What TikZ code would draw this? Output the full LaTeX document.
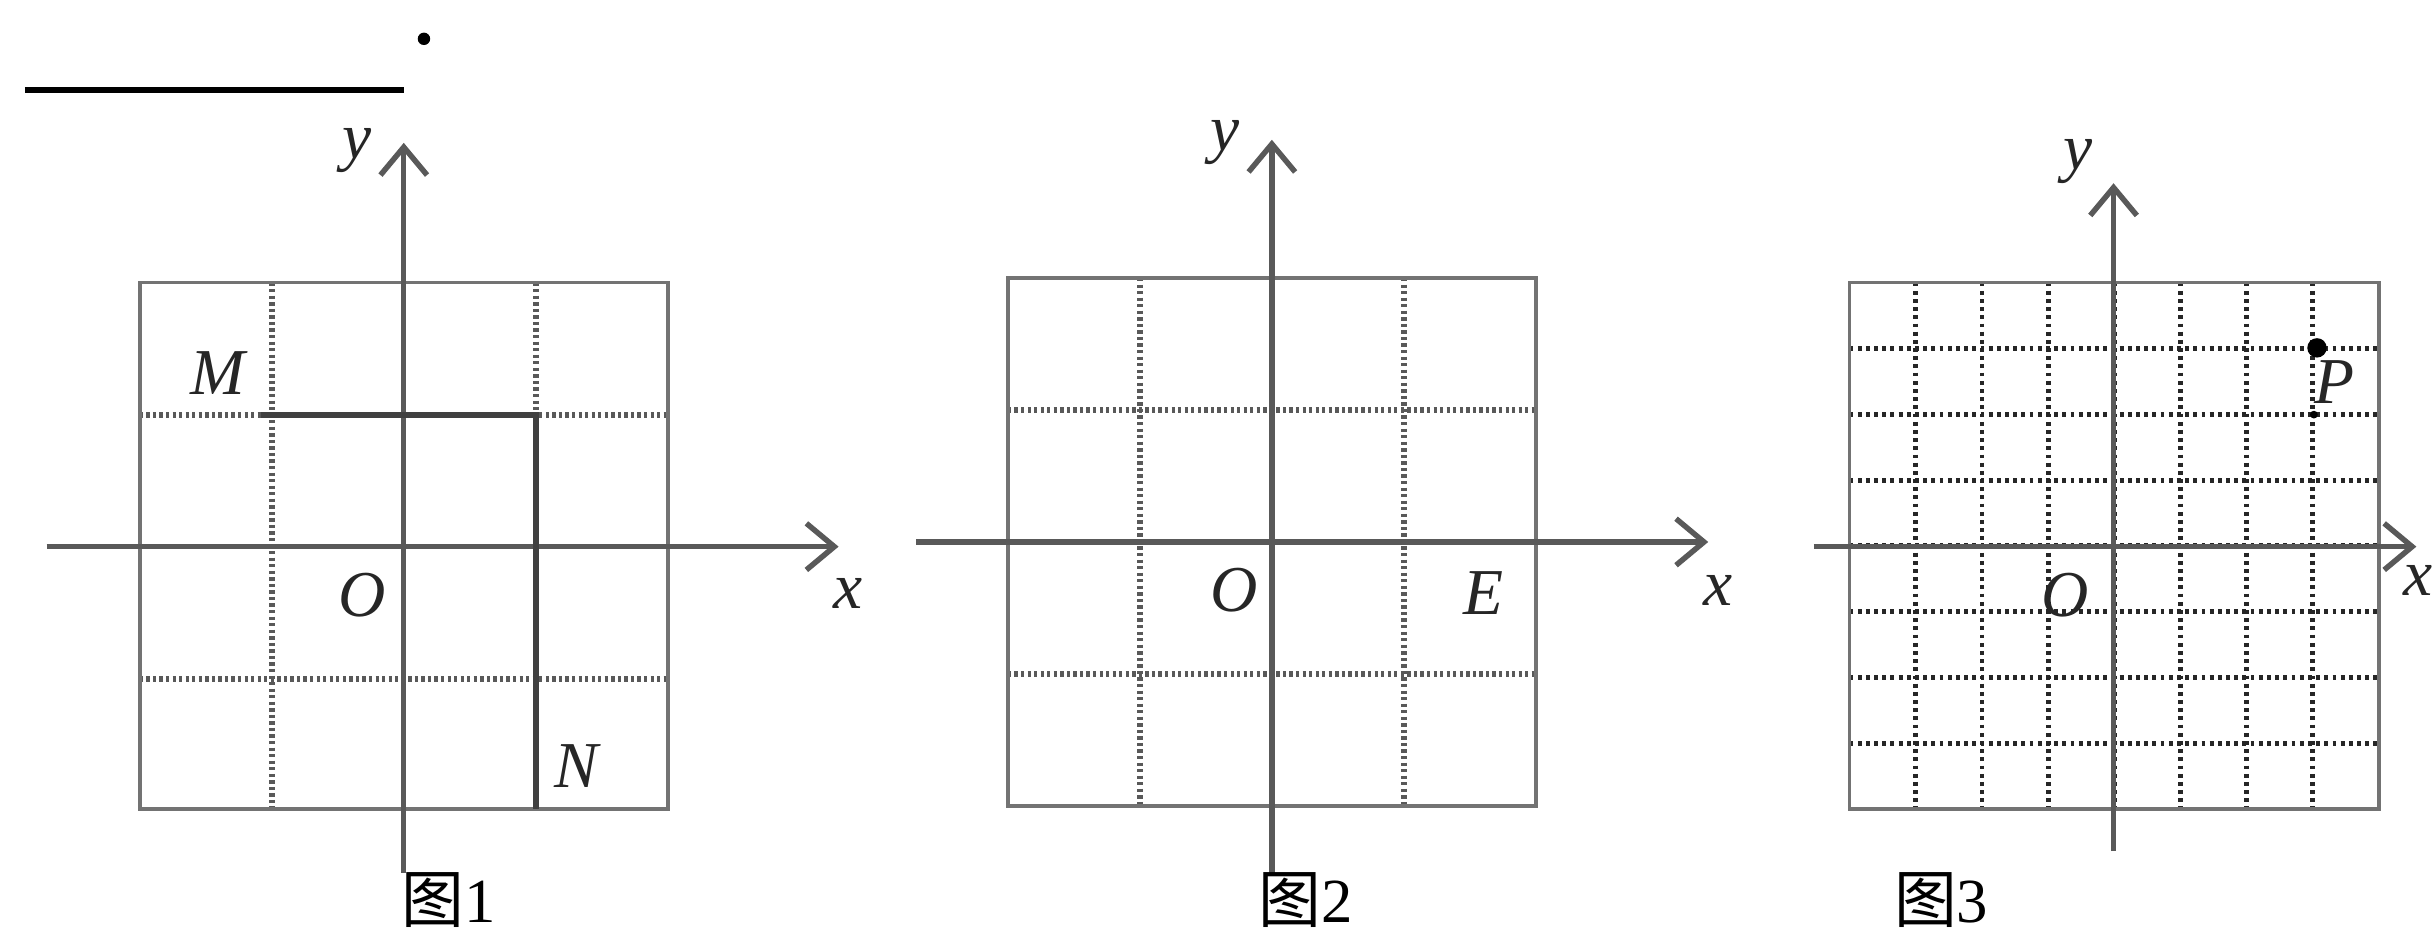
\documentclass[tikz,border=0pt]{standalone}
\usepackage{fontspec}
\setmainfont{Liberation Serif}
\newfontfamily\cjk{Noto Sans CJK SC}
\usetikzlibrary{arrows.meta}
\begin{document}
\begin{tikzpicture}[x=0.02cm,y=-0.02cm,
  axis/.style={draw=black!65, line width=2pt, -{Straight Barb[length=0.36cm,width=0.6cm,line width=2pt]}},
  frame/.style={draw=black!55, line width=1.3pt},
  gridln/.style={draw=black!65, line width=2.2pt, dash pattern=on 1.2pt off 1.2pt},
  gridthree/.style={draw=black!85, line width=1.8pt, dash pattern=on 1.4pt off 1.6pt},
  lbl/.style={font=\fontsize{24}{24}\selectfont\itshape, inner sep=0pt, text=black!85},
  capt/.style={font=\fontsize{23}{23}\selectfont, inner sep=0pt, anchor=base},
  pathln/.style={draw=black!75, line width=2.2pt},
  dotn/.style={circle, fill=black, inner sep=0pt}
]
\useasboundingbox (0,0) rectangle (1568,601);

% answer blank and dot
\coordinate (la) at (16,58);
\coordinate (lb) at (260,58);
\draw[line width=2.3pt] (la) -- (lb);
\node[dotn, minimum size=0.16cm] (topdot) at (273,25) {};

% ---------- Figure 1 ----------
\foreach \x in {175,345} \draw[gridln] (\x,182) -- (\x,521);
\foreach \y in {267,437} \draw[gridln] (90,\y) -- (430,\y);
\draw[frame] (90,182) rectangle (430,521);
\coordinate (xa1) at (30,352);
\coordinate (xb1) at (540,352);
\coordinate (ya1) at (260,562);
\coordinate (yb1) at (260,92);
\draw[axis] (xa1) -- (xb1);
\draw[axis] (ya1) -- (yb1);
\coordinate (M1) at (168,267);
\coordinate (C1) at (345,267);
\coordinate (N1) at (345,521);
\draw[pathln] (M1) -- (C1) -- (N1);
\node[lbl] (ylab1) at (230,97) {y};
\node[lbl] (xlab1) at (546,382) {x};
\node[lbl] (O1) at (233,383) {O};
\node[lbl] (Mlab) at (140,240) {M};
\node[lbl] (Nlab) at (371,493) {N};
\node[capt] (cap1) at (289,594) {{\cjk 图}1};

% ---------- Figure 2 ----------
\foreach \x in {734,904} \draw[gridln] (\x,179) -- (\x,519);
\foreach \y in {264,434} \draw[gridln] (649,\y) -- (989,\y);
\draw[frame] (649,179) rectangle (989,519);
\coordinate (xa2) at (590,349);
\coordinate (xb2) at (1100,349);
\coordinate (ya2) at (819,562);
\coordinate (yb2) at (819,90);
\draw[axis] (xa2) -- (xb2);
\draw[axis] (ya2) -- (yb2);
\node[lbl] (ylab2) at (789,92) {y};
\node[lbl] (xlab2) at (1106,380) {x};
\node[lbl] (O2) at (795,380) {O};
\node[lbl] (Elab) at (955,382) {E};
\node[capt] (cap2) at (841,594) {{\cjk 图}2};

% ---------- Figure 3 ----------
\foreach \k in {1,...,7} {
  \draw[gridthree] ({1191+42.625*\k},182) -- ({1191+42.625*\k},521);
  \draw[gridthree] (1191,{182+42.375*\k}) -- (1532,{182+42.375*\k});
}
\draw[frame] (1191,182) rectangle (1532,521);
\coordinate (xa3) at (1168,352);
\coordinate (xb3) at (1556,352);
\coordinate (ya3) at (1361,548);
\coordinate (yb3) at (1361,118);
\draw[axis] (xa3) -- (xb3);
\draw[axis] (ya3) -- (yb3);
\node[lbl] (ylab3) at (1338,104) {y};
\node[lbl, anchor=east] (xlab3) at (1567,374) {x};
\node[lbl] (O3) at (1330,383) {O};
\node[dotn, minimum size=0.25cm] (Pdot) at (1492,224) {};
\node[dotn, minimum size=0.1cm] (Qdot) at (1490,267) {};
\node[lbl] (Plab) at (1503,246) {P};
\node[capt] (cap3) at (1250,594) {{\cjk 图}3};
\end{tikzpicture}
\end{document}
